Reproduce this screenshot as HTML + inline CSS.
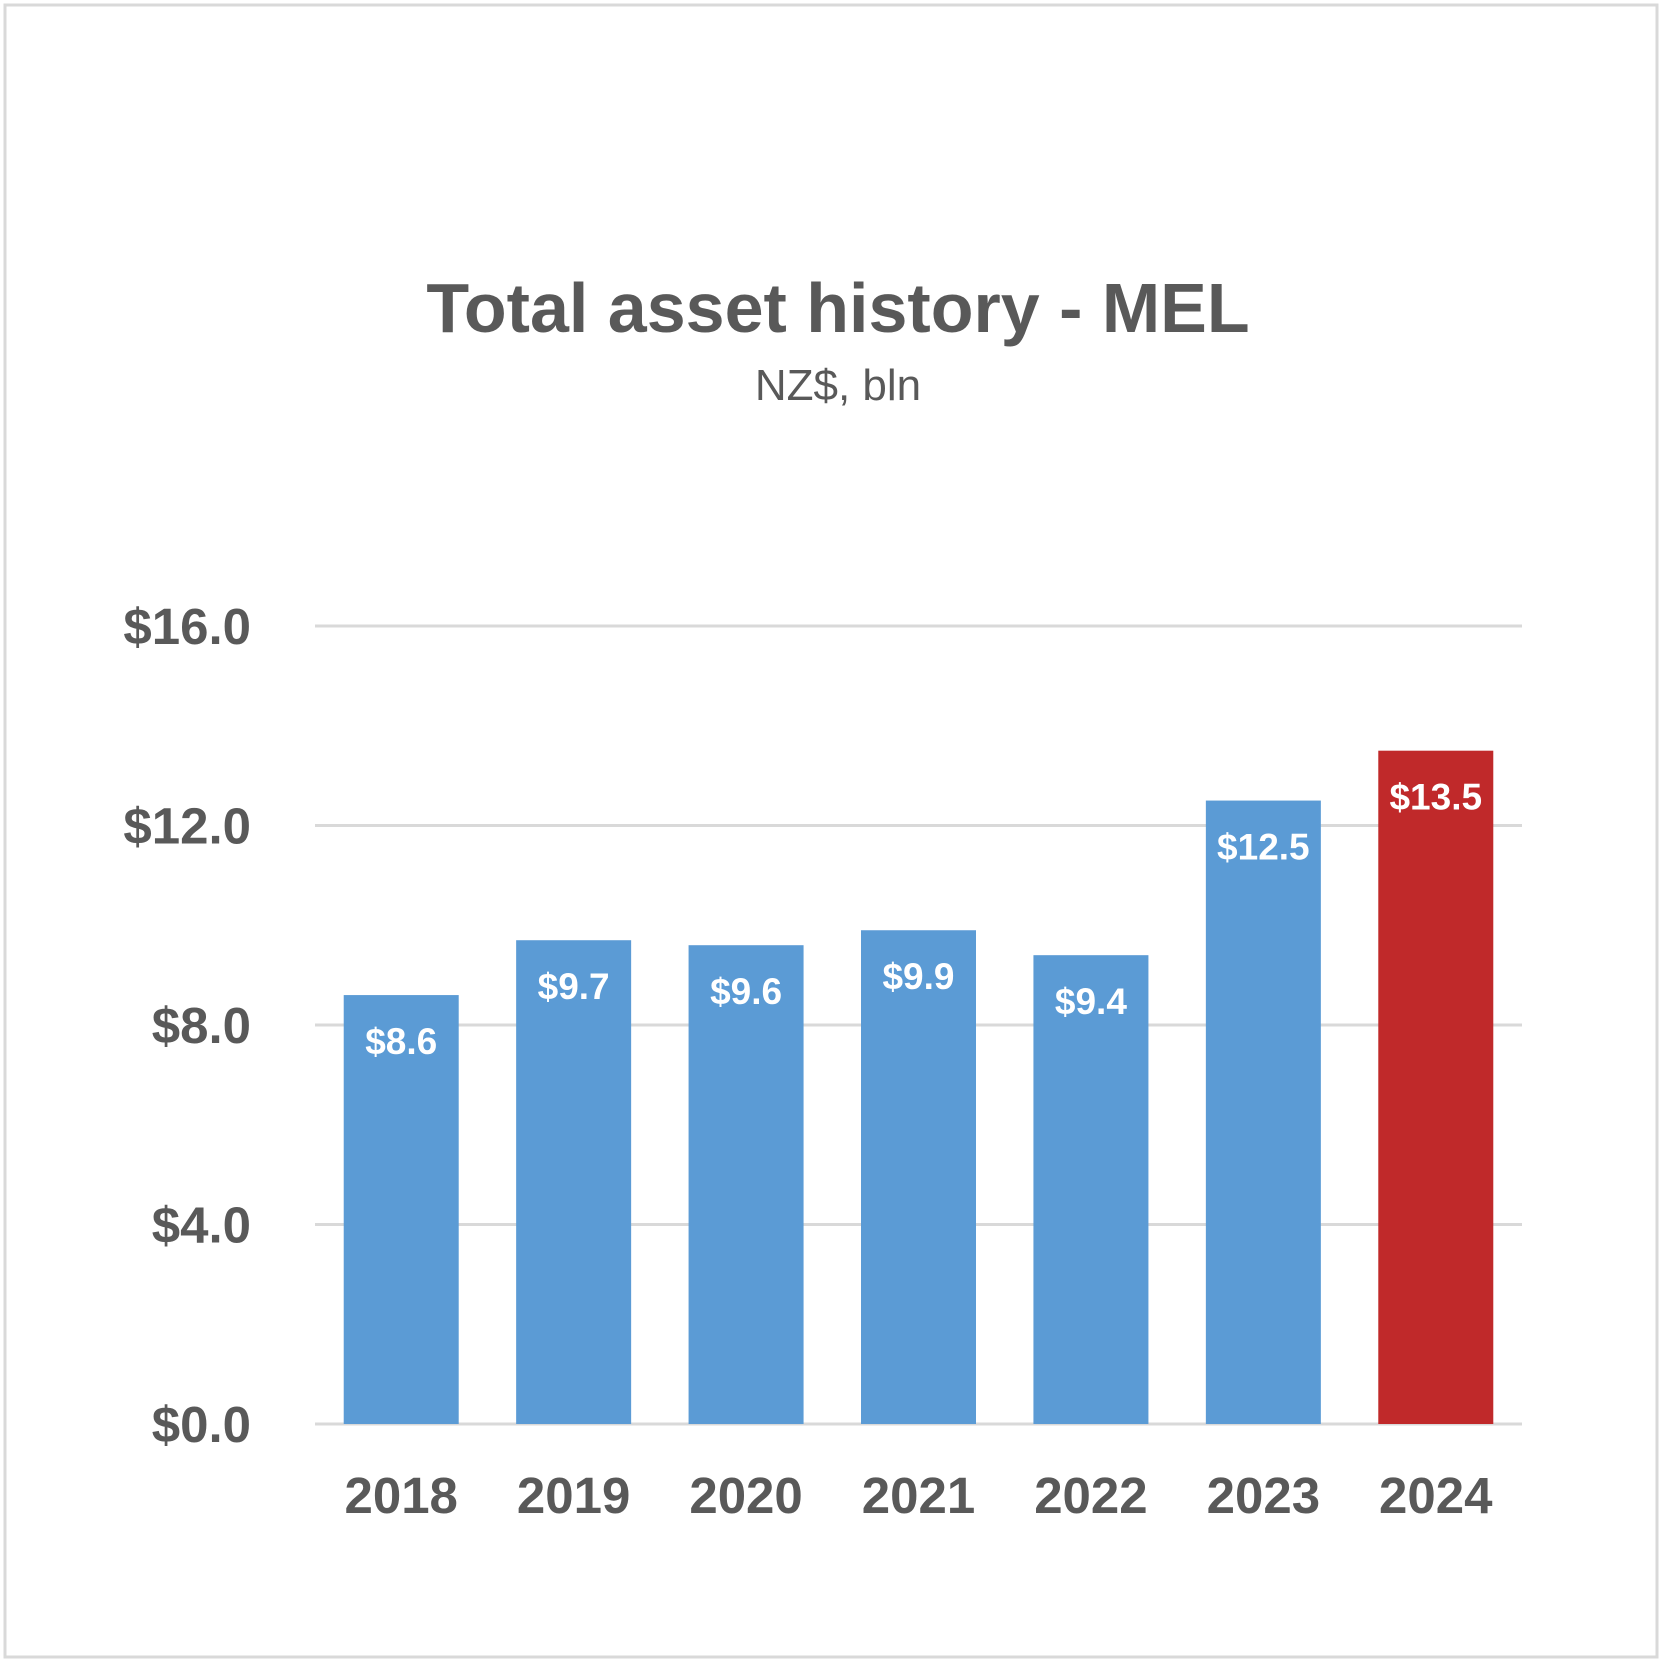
<!DOCTYPE html>
<html><head><meta charset="utf-8"><style>
body{margin:0;background:#fff}
svg{display:block}
text{font-family:"Liberation Sans",sans-serif}
</style></head><body>
<svg id="chart" width="1663" height="1663" viewBox="0 0 1663 1663">
<rect x="5" y="5" width="1652" height="1652" fill="#fff" stroke="#d9d9d9" stroke-width="3"/>
<text x="838" y="332" text-anchor="middle" font-size="70" font-weight="bold" fill="#595959">Total asset history - MEL</text>
<text x="838" y="400" text-anchor="middle" font-size="44" fill="#595959">NZ$, bln</text>
<g id="grid"></g><g id="bars"></g>
</svg>
<script>
const categories=["2018","2019","2020","2021","2022","2023","2024"];
const values=[8.6,9.7,9.6,9.9,9.4,12.5,13.5];
const labels=["$8.6","$9.7","$9.6","$9.9","$9.4","$12.5","$13.5"];
const ticks=[0,4,8,12,16];
const tickLabels=["$0.0","$4.0","$8.0","$12.0","$16.0"];
const NS="http://www.w3.org/2000/svg";
const x0=315,x1=1522,yBase=1424,yTop=626,vMax=16;
const slot=(x1-x0)/categories.length,bw=115;
const y=v=>yBase-(v/vMax)*(yBase-yTop);
const xc=i=>x0+slot*(i+0.5);
function mk(t,a,p){const e=document.createElementNS(NS,t);for(const k in a)e.setAttribute(k,a[k]);p.appendChild(e);return e;}
const g=document.getElementById('grid'),b=document.getElementById('bars');
ticks.forEach((t,i)=>{
 const l=mk('line',{x1:x0,x2:x1,y1:y(t),y2:y(t),stroke:'#d9d9d9','stroke-width':3},g);
 
 
 const tx=mk('text',{x:251,y:y(t)+18,'text-anchor':'end','font-size':51,'font-weight':'bold',fill:'#595959'},g);
 tx.textContent=tickLabels[i];
 
 
});
categories.forEach((c,i)=>{
 const r=mk('rect',{x:xc(i)-bw/2,y:y(values[i]),width:bw,height:yBase-y(values[i]),fill:i==categories.length-1?'#c0292a':'#5b9bd5'},b);
 
 
 const dl=mk('text',{x:xc(i),y:y(values[i])+59,'text-anchor':'middle','font-size':37,'font-weight':'bold',fill:'#fff'},b);
 dl.textContent=labels[i];
 
 
 const xl=mk('text',{x:xc(i),y:1513,'text-anchor':'middle','font-size':51,'font-weight':'bold',fill:'#595959'},b);
 xl.textContent=c;
 
 
});
</script>
</body></html>
